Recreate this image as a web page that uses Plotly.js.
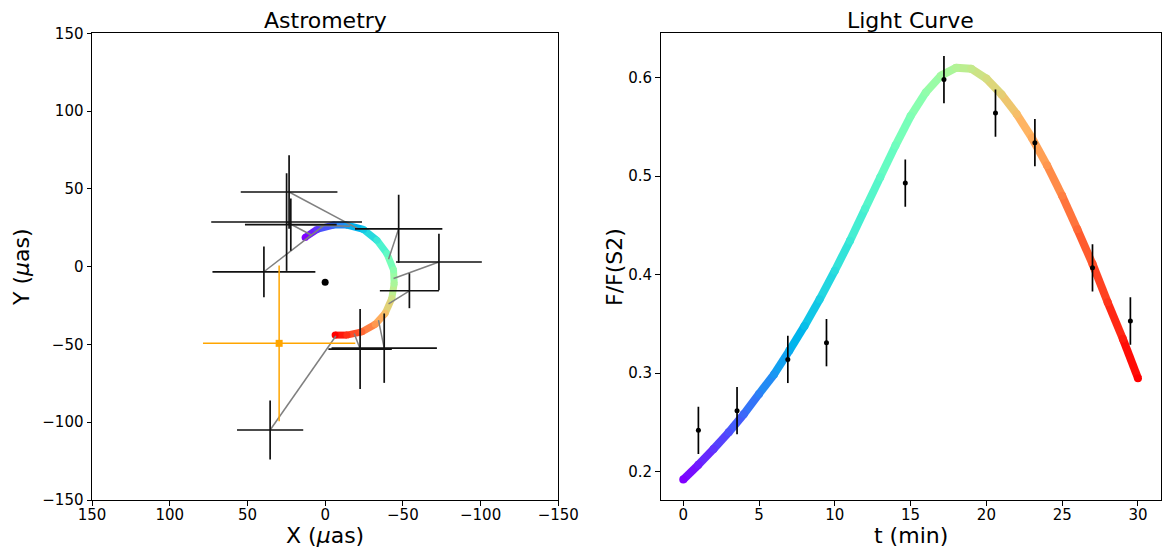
<!DOCTYPE html>
<html>
<head>
<meta charset="utf-8">
<script src="https://cdn.plot.ly/plotly-3.0.1.min.js"></script>
<style>
  html, body { margin: 0; padding: 0; background: #fff; }
  #chart { width: 1163px; height: 550px; }
</style>
</head>
<body>
<div id="chart"></div>
<script>
// ---------------- Light curve: model curve ----------------
const lcT = [0,1,2,3,4,5,6,7,8,9,10,11,12,13,14,15,16,17,18,19,20,21,22,23,24,25,26,27,28,29,30];
const lcF = [0.192,0.207,0.223,0.240,0.2585,0.279,0.299,0.323,0.348,0.375,0.404,0.4345,0.467,0.499,0.531,0.561,0.585,0.602,0.610,0.609,0.599,0.583,0.563,0.539,0.511,0.480,0.446,0.411,0.372,0.335,0.295];

// ---------------- Light curve: observations ----------------
const obsT = [1.0, 3.55, 6.9, 9.45, 14.65, 17.2, 20.6, 23.2, 27.0, 29.5];
const obsF = [0.242, 0.262, 0.314, 0.331, 0.493, 0.598, 0.564, 0.534, 0.407, 0.353];
const obsFerr = [0.024, 0.024, 0.024, 0.024, 0.024, 0.024, 0.024, 0.024, 0.024, 0.024];

// ---------------- Astrometry: model orbit arc ----------------
const arcX = [12.9, 5.3, -5.3, -14.0, -24.7, -33.3, -39.7, -44.0, -44.4, -42.9, -38.6, -32.2, -23.6, -14.0, -6.4];
const arcY = [18.8, 23.9, 26.7, 26.7, 23.9, 17.0, 8.5, -2.2, -10.8, -20.4, -30.0, -37.1, -41.9, -44.0, -44.0];
const arcT = [0, 2.0, 4.3, 6.2, 8.6, 10.9, 13.2, 15.7, 17.5, 19.6, 21.9, 23.9, 26.0, 28.2, 30];

// ---------------- Astrometry: observations (ordered by time) ----------------
const astX    = [24.8, 39.4, 22.1, 23.2, -47.3, -73.2, -54.2, -38.0, -22.5, 35.4];
const astY    = [28.7, -3.3, 27.0, 48.0, 24.3, 3.0, -15.5, -52.4, -53.0, -105.0];
const astXerr = [48.5, 33.1, 29.5, 31.1, 28.1, 27.6, 19.0, 33.9, 20.4, 21.3];
const astYerr = [31.4, 16.3, 16.8, 23.6, 21.9, 18.2, 11.2, 22.3, 25.7, 18.9];
// model positions at the observation times (ends of the grey lines)
const modX = [8.6, 0.6, -16.0, -21.0, -40.8, -44.0, -40.8, -34.3, -18.7, -6.9];
const modY = [20.2, 26.7, 26.0, 24.5, 4.8, -7.6, -24.0, -34.4, -42.9, -44.6];

// orange reference point and black central dot
const refX = [29.6], refY = [-49.3], refXerr = [49.0], refYerr = [50.0];
const ctrX = [0], ctrY = [-10];

// ---------------- helpers ----------------
const T_MAX = 30;
function rainbow(f) {
  f = Math.max(0, Math.min(1, f));
  const r = Math.min(1, Math.abs(2 * f - 0.5));
  const g = Math.sin(Math.PI * f);
  const b = Math.cos(Math.PI / 2 * f);
  return 'rgb(' + Math.round(r * 255) + ',' + Math.round(g * 255) + ',' + Math.round(b * 255) + ')';
}
function gradientPath(xs, ys, ts, width, xa, ya) {
  const out = [];
  for (let i = 0; i < xs.length - 1; i++) {
    out.push({
      x: [xs[i], xs[i + 1]], y: [ys[i], ys[i + 1]],
      mode: 'lines', line: { color: rainbow((ts[i] + ts[i + 1]) / 2 / T_MAX), width: width },
      xaxis: xa, yaxis: ya, showlegend: false, hoverinfo: 'skip'
    });
  }
  out.push({
    x: xs, y: ys, mode: 'markers',
    marker: { size: width, color: ts.map(t => rainbow(t / T_MAX)), line: { width: 0 } },
    xaxis: xa, yaxis: ya, showlegend: false, hoverinfo: 'skip'
  });
  return out;
}

const traces = [];
// left: arc
traces.push(...gradientPath(arcX, arcY, arcT, 7, 'x', 'y'));
// left: grey connectors
const gx = [], gy = [];
for (let i = 0; i < astX.length; i++) { gx.push(astX[i], modX[i], null); gy.push(astY[i], modY[i], null); }
traces.push({ x: gx, y: gy, mode: 'lines', line: { color: 'rgb(128,128,128)', width: 1.5 },
  xaxis: 'x', yaxis: 'y', showlegend: false, hoverinfo: 'skip' });
// left: black error crosses
traces.push({ x: astX, y: astY, mode: 'markers', marker: { size: 1, color: 'rgba(0,0,0,0)' },
  error_x: { type: 'data', array: astXerr, visible: true, color: '#111', thickness: 1.7, width: 0 },
  error_y: { type: 'data', array: astYerr, visible: true, color: '#111', thickness: 1.7, width: 0 },
  xaxis: 'x', yaxis: 'y', showlegend: false });
// left: orange point
traces.push({ x: refX, y: refY, mode: 'markers', marker: { size: 7, symbol: 'square', color: '#FFA500' },
  error_x: { type: 'data', array: refXerr, visible: true, color: '#FFA500', thickness: 1.5, width: 0 },
  error_y: { type: 'data', array: refYerr, visible: true, color: '#FFA500', thickness: 1.5, width: 0 },
  xaxis: 'x', yaxis: 'y', showlegend: false });
// left: black dot
traces.push({ x: ctrX, y: ctrY, mode: 'markers', marker: { size: 7, color: 'black' },
  xaxis: 'x', yaxis: 'y', showlegend: false });

// right: model curve
traces.push(...gradientPath(lcT, lcF, lcT, 8, 'x2', 'y2'));
// right: observations
traces.push({ x: obsT, y: obsF, mode: 'markers', marker: { size: 5, color: 'black' },
  error_y: { type: 'data', array: obsFerr, visible: true, color: 'black', thickness: 1.7, width: 0 },
  xaxis: 'x2', yaxis: 'y2', showlegend: false });

const font = { family: 'DejaVu Sans, sans-serif', color: 'black' };
const axisBase = {
  showgrid: false, zeroline: false, showline: true, mirror: true,
  linecolor: 'black', linewidth: 1, ticks: 'outside', ticklen: 4.5, tickwidth: 1, tickcolor: 'black',
  tickfont: { family: 'DejaVu Sans, sans-serif', size: 15, color: 'black' }
};
const H = 550, W = 1163;
const yDom = [1 - 500 / H, 1 - 33.3 / H];
const TF = 22;
function ann(text, xpx, ypx, angle) {
  return { text: text, xref: 'paper', yref: 'paper', x: xpx / W, y: 1 - ypx / H,
    xanchor: 'center', yanchor: 'middle', textangle: angle || 0, showarrow: false, borderpad: 0,
    font: { family: 'DejaVu Sans, sans-serif', size: TF, color: 'black' } };
}
function annBottom(text, xpx) {
  return { text: text, xref: 'paper', yref: 'paper', x: xpx / W, y: 0, yshift: 1,
    xanchor: 'center', yanchor: 'bottom', showarrow: false, borderpad: 0,
    font: { family: 'DejaVu Sans, sans-serif', size: TF, color: 'black' } };
}

const layout = {
  width: W, height: H,
  margin: { l: 0, r: 0, t: 0, b: 0 },
  paper_bgcolor: 'white', plot_bgcolor: 'white',
  font: font,
  xaxis: Object.assign({}, axisBase, { domain: [92 / W, 558.3 / W], range: [150, -150], autorange: false,
    tickvals: [150, 100, 50, 0, -50, -100, -150], anchor: 'y', ticklabelstandoff: -4 }),
  yaxis: Object.assign({}, axisBase, { domain: yDom, range: [-150, 150], autorange: false,
    tickvals: [150, 100, 50, 0, -50, -100, -150], anchor: 'x' }),
  xaxis2: Object.assign({}, axisBase, { domain: [660.5 / W, 1160.7 / W], range: [-1.5, 31.5], autorange: false,
    tickvals: [0, 5, 10, 15, 20, 25, 30], anchor: 'y2', ticklabelstandoff: -4 }),
  yaxis2: Object.assign({}, axisBase, { domain: yDom, range: [0.1713, 0.645], autorange: false,
    tickvals: [0.2, 0.3, 0.4, 0.5, 0.6], tickformat: '.1f', anchor: 'x2' }),
  annotations: [
    ann('Astrometry', 325, 20),
    ann('Light Curve', 910.6, 20),
    annBottom('X (<i>μ</i>as)', 325),
    annBottom('t (min)', 910.6),
    ann('Y (<i>μ</i>as)', 21, 267, -90),
    ann('F/F(S2)', 614, 267, -90)
  ]
};

Plotly.newPlot('chart', traces, layout, { displayModeBar: false, staticPlot: true });
</script>
</body>
</html>
